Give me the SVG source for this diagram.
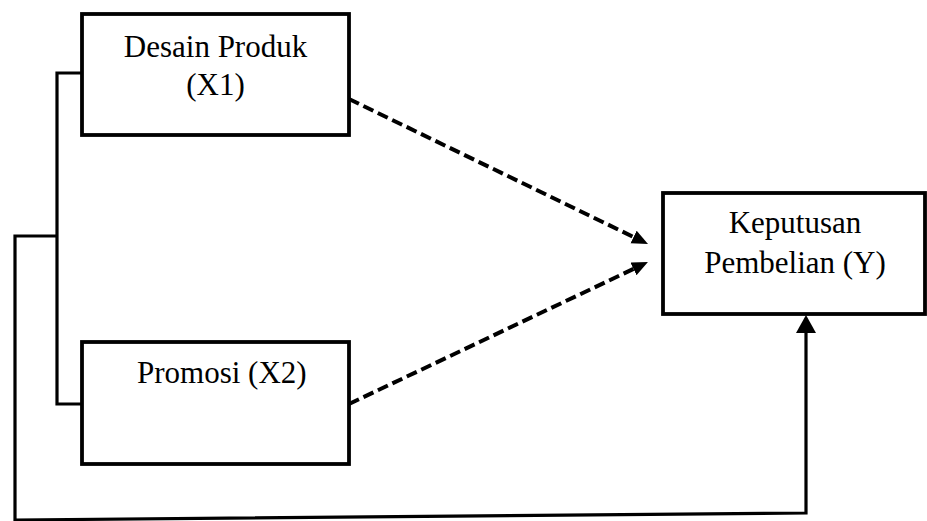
<svg xmlns="http://www.w3.org/2000/svg" width="927" height="521" viewBox="0 0 927 521">
<style>
.box{fill:#fff;stroke:#000;stroke-width:3.8}
.lbl{font-family:"Liberation Serif","Times New Roman",serif;font-size:31px;fill:#000}
.solid{fill:none;stroke:#000;stroke-width:3.2}
.dash{fill:none;stroke:#000;stroke-width:4;stroke-dasharray:11 5}
</style>
<defs>
<marker id="ah" markerUnits="userSpaceOnUse" markerWidth="18" markerHeight="16" refX="0" refY="7" orient="auto">
<path d="M0,0 L16,7 L0,14 z" fill="#000"/>
</marker>
<marker id="ahs" markerUnits="userSpaceOnUse" markerWidth="20" markerHeight="22" refX="0" refY="10" orient="auto">
<path d="M0,0 L18,10 L0,20 z" fill="#000"/>
</marker>
</defs>
<g id="connectors">
<path class="solid" d="M82,73 H57 V404 H82"/>
<path class="solid" d="M57,236 H15 V520 L806,513 V333" marker-end="url(#ahs)"/>
<path class="dash" d="M349,99 L633.6,237" marker-end="url(#ah)"/>
<path class="dash" d="M349,404 L633.5,268.9" marker-end="url(#ah)"/>
</g>
<g id="x1">
<rect class="box" x="82" y="14" width="267" height="121"/>
<text class="lbl" x="215.5" y="57" text-anchor="middle">Desain Produk</text>
<text class="lbl" x="215.5" y="95" text-anchor="middle">(X1)</text>
</g>
<g id="x2">
<rect class="box" x="82" y="342" width="267" height="122"/>
<text class="lbl" x="137" y="383">Promosi (X2)</text>
</g>
<g id="y">
<rect class="box" x="663" y="193" width="262" height="121"/>
<text class="lbl" x="795" y="233" text-anchor="middle">Keputusan</text>
<text class="lbl" x="795" y="273" text-anchor="middle">Pembelian (Y)</text>
</g>
</svg>
